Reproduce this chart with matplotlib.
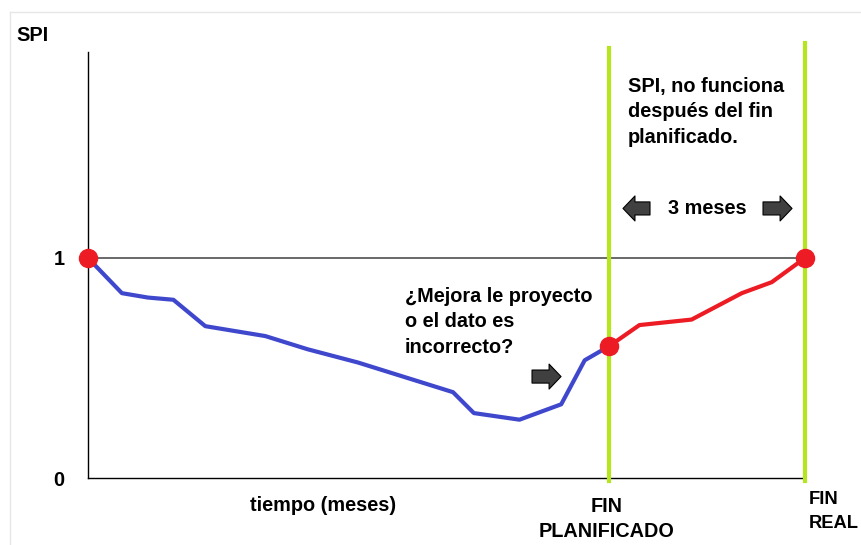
import matplotlib
matplotlib.use("Agg")
import matplotlib.pyplot as plt
from matplotlib.patches import FancyArrowPatch
from matplotlib.lines import Line2D

# Datos (meses, SPI)
meses_plan = [0, 0.52, 0.92, 1.31, 1.80, 2.72, 3.37, 4.14, 5.60, 5.92, 6.62, 7.26, 7.62, 8.0]
spi_plan = [1.0, 0.84, 0.82, 0.81, 0.69, 0.645, 0.585, 0.525, 0.39, 0.295, 0.265, 0.335, 0.535, 0.60]

meses_real = [8.0, 8.46, 9.26, 10.03, 10.49, 11.0]
spi_real = [0.60, 0.695, 0.72, 0.84, 0.89, 1.0]

fin_planificado = 8
fin_real = 11
puntos_x = [0, fin_planificado, fin_real]
puntos_y = [1.0, 0.60, 1.0]

AZUL = '#3f48cc'
ROJO = '#ed1c24'
VERDE = '#b5e61d'
GRIS = '#404040'

plt.rcParams['font.family'] = ['Liberation Sans', 'DejaVu Sans']
plt.rcParams['font.weight'] = 'bold'
fs = 14.3
ls = 1.45

fig = plt.figure(figsize=(8.62, 5.45), dpi=100)
ax = fig.add_axes([88 / 862, 67 / 545, 717 / 862, 426 / 545])
ax.set_xlim(0, 11.0)
ax.set_ylim(0, 1.936)

# marco gris claro de la imagen
fig.add_artist(Line2D([10 / 862, 1], [1 - 12 / 545] * 2, color='#e6e6e6', lw=1))
fig.add_artist(Line2D([10 / 862] * 2, [0, 1 - 12 / 545], color='#e6e6e6', lw=1))

for s in ['top', 'right']:
    ax.spines[s].set_visible(False)
for s in ['left', 'bottom']:
    ax.spines[s].set_color('black')
    ax.spines[s].set_linewidth(1.0)

ax.set_xticks([])
ax.set_yticks([0, 1])
ax.set_yticklabels(['0', '1'])
ax.tick_params(axis='y', length=0, pad=17, labelsize=fs)
for t in ax.get_yticklabels():
    t.set_fontweight('bold')

# linea SPI = 1
ax.plot([0, fin_real], [1, 1], color=GRIS, lw=1.1, zorder=2, clip_on=False)

# lineas verdes
ax.plot([fin_planificado] * 2, [-0.014, 1.956], color=VERDE, lw=3, clip_on=False, zorder=3)
ax.plot([fin_real] * 2, [-0.014, 1.977], color=VERDE, lw=3, clip_on=False, zorder=3)

ax.plot(meses_plan, spi_plan, color=AZUL, lw=3, zorder=4, solid_joinstyle='round')
ax.plot(meses_real, spi_real, color=ROJO, lw=3, zorder=4, solid_joinstyle='round', clip_on=False)
ax.plot(puntos_x, puntos_y, 'o', color=ROJO, markersize=13, zorder=5, clip_on=False)

# textos
ax.text(-1.105, 2.009, 'SPI', fontsize=fs, ha='left', va='center')
ax.text(3.605, -0.123, 'tiempo (meses)', fontsize=fs, ha='center', va='center')
ax.text(7.963, -0.186, 'FIN\nPLANIFICADO', fontsize=fs, ha='center', va='center',
        multialignment='center', linespacing=ls)
ax.text(11.06, -0.152, 'FIN\nREAL', fontsize=13.2, ha='left', va='center', linespacing=1.55)
ax.text(4.863, 0.709, '¿Mejora le proyecto\no el dato es\nincorrecto?', fontsize=fs,
        ha='left', va='center', linespacing=ls)
ax.text(8.285, 1.664, 'SPI, no funciona\ndespués del fin\nplanificado.', fontsize=fs,
        ha='left', va='center', linespacing=ls)
ax.text(9.505, 1.227, '3 meses', fontsize=fs, ha='center', va='center')

# flechas
estilo = 'simple,head_length=0.86,head_width=1.8,tail_width=0.94'
flechas = [((8.622, 1.225), (8.208, 1.225)),
           ((10.356, 1.225), (10.801, 1.225)),
           ((6.812, 0.461), (7.257, 0.461))]
for a, b in flechas:
    ax.add_patch(FancyArrowPatch(a, b, arrowstyle=estilo, mutation_scale=10,
                                 facecolor='#404040', edgecolor='black', lw=0.8,
                                 shrinkA=0, shrinkB=0, zorder=6))

fig.savefig('out.png', dpi=100)
